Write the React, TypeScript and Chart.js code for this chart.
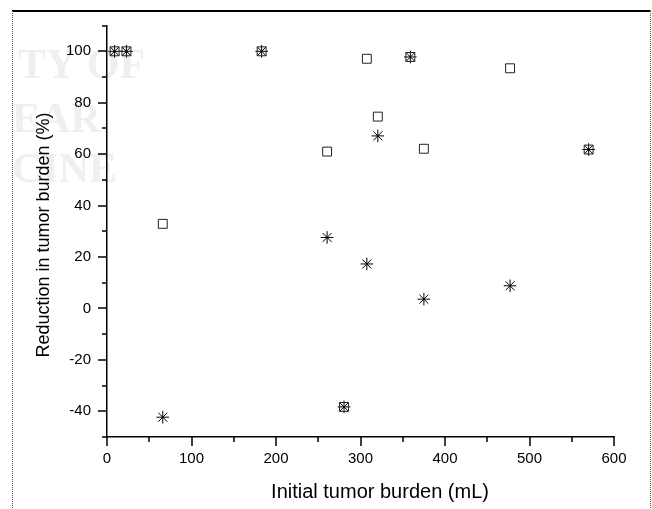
import React, { useEffect, useRef } from 'react';
import { Chart, registerables } from 'chart.js';

Chart.register(...registerables);

// Data
const patientVolume = [9, 23, 66, 183, 260.5, 280.5, 307.5, 320.5, 359, 375, 477, 570];
const reductionSquare = [100, 100, 32.9, 100, 61, -38.3, 97.1, 74.6, 97.8, 62.1, 93.4, 61.8];
const reductionAsterisk = [100, 100, -42.3, 100, 27.6, -38.3, 17.3, 67.1, 97.8, 3.6, 8.8, 61.8];

const xTickLabels = [0, 100, 200, 300, 400, 500, 600];
const xMinorTicks = [50, 150, 250, 350, 450, 550];
const yTickLabels = [-40, -20, 0, 20, 40, 60, 80, 100];
const yMinorTicks = [-50, -30, -10, 10, 30, 50, 70, 90, 110];

const xTitle = 'Initial tumor burden (mL)';
const yTitle = 'Reduction in tumor burden (%)';
const watermarkLines = ['TY OF', 'EAR', 'CINE'];

const FONT = "'Liberation Sans', Arial, Helvetica, sans-serif";

const decorPlugin = {
  id: 'decor',
  beforeDraw(chart: any) {
    const ctx = chart.ctx;
    ctx.save();
    // faint watermark
    ctx.fillStyle = '#efefef';
    ctx.font = "bold 42px 'Liberation Serif', 'DejaVu Serif', serif";
    ctx.textBaseline = 'alphabetic';
    ctx.textAlign = 'left';
    ctx.fillText(watermarkLines[0], 18, 78);
    ctx.fillText(watermarkLines[1], 12, 132);
    ctx.fillText(watermarkLines[2], 12, 182);
    // outer frame
    ctx.strokeStyle = '#000';
    ctx.lineWidth = 2;
    ctx.beginPath();
    ctx.moveTo(12, 11);
    ctx.lineTo(650.5, 11);
    ctx.stroke();
    ctx.lineWidth = 1;
    ctx.strokeStyle = '#555';
    ctx.setLineDash([1, 1]);
    ctx.beginPath();
    ctx.moveTo(12.5, 11);
    ctx.lineTo(12.5, 509);
    ctx.moveTo(650.5, 11);
    ctx.lineTo(650.5, 509);
    ctx.stroke();
    ctx.restore();
  },
  afterDraw(chart: any) {
    const ctx = chart.ctx;
    const xs = chart.scales.x;
    const ys = chart.scales.y;
    const left = chart.chartArea.left;
    const bottom = chart.chartArea.bottom;
    ctx.save();
    ctx.strokeStyle = '#000';
    ctx.lineWidth = 1.5;
    ctx.beginPath();
    xTickLabels.forEach((v) => {
      const px = Math.round(xs.getPixelForValue(v));
      ctx.moveTo(px, bottom);
      ctx.lineTo(px, bottom + 9);
    });
    xMinorTicks.forEach((v) => {
      const px = Math.round(xs.getPixelForValue(v));
      ctx.moveTo(px, bottom);
      ctx.lineTo(px, bottom + 5);
    });
    yTickLabels.forEach((v) => {
      const py = Math.round(ys.getPixelForValue(v));
      ctx.moveTo(left, py);
      ctx.lineTo(left - 9, py);
    });
    yMinorTicks.forEach((v) => {
      const py = Math.round(ys.getPixelForValue(v));
      ctx.moveTo(left, py);
      ctx.lineTo(left - 5, py);
    });
    ctx.stroke();

    // axis titles
    ctx.fillStyle = '#000';
    ctx.textBaseline = 'alphabetic';
    ctx.textAlign = 'center';
    ctx.font = `20px ${FONT}`;
    ctx.fillText(xTitle, 380, 498);
    ctx.translate(48.5, 235);
    ctx.rotate(-Math.PI / 2);
    ctx.font = `18px ${FONT}`;
    ctx.fillText(yTitle, 0, 0);
    ctx.restore();
  },
};

export default function App() {
  const canvasRef = useRef<HTMLCanvasElement | null>(null);

  useEffect(() => {
    const canvas = canvasRef.current;
    if (!canvas) return;
    const chart = new Chart(canvas, {
      type: 'scatter',
      data: {
        datasets: [
          {
            label: 'Square',
            data: patientVolume.map((x, i) => ({ x, y: reductionSquare[i] })),
            pointStyle: 'rect',
            pointRadius: 6.3,
            pointHoverRadius: 6.3,
            borderColor: '#222',
            backgroundColor: 'rgba(0,0,0,0)',
            borderWidth: 1,
            showLine: false,
          },
          {
            label: 'Asterisk',
            data: patientVolume.map((x, i) => ({ x, y: reductionAsterisk[i] })),
            pointStyle: 'star',
            pointRadius: 6.3,
            pointHoverRadius: 6.3,
            borderColor: '#000',
            backgroundColor: 'rgba(0,0,0,0)',
            borderWidth: 1,
            showLine: false,
          },
        ],
      },
      options: {
        responsive: false,
        animation: false,
        devicePixelRatio: 1,
        events: [],
        layout: { padding: { left: 0, right: 38, top: 25.6, bottom: 0 } },
        plugins: {
          legend: { display: false },
          tooltip: { enabled: false },
          title: { display: false },
        },
        scales: {
          x: {
            type: 'linear',
            min: 0,
            max: 600,
            afterBuildTicks: (s: any) => {
              s.ticks = xTickLabels.map((v) => ({ value: v }));
            },
            afterFit: (s: any) => {
              s.height = 72;
            },
            grid: { display: true, drawOnChartArea: false, drawTicks: false },
            border: { display: true, color: '#000', width: 1.5 },
            ticks: {
              color: '#000',
              font: { family: FONT, size: 15 },
              padding: 13,
              maxRotation: 0,
              autoSkip: false,
            },
          },
          y: {
            type: 'linear',
            min: -50,
            max: 110,
            afterBuildTicks: (s: any) => {
              s.ticks = yTickLabels.map((v) => ({ value: v }));
            },
            afterFit: (s: any) => {
              s.width = 107;
            },
            grid: { display: true, drawOnChartArea: false, drawTicks: false },
            border: { display: true, color: '#000', width: 1.5 },
            ticks: {
              color: '#000',
              font: { family: FONT, size: 15 },
              padding: 16,
              autoSkip: false,
            },
          },
        },
      },
      plugins: [decorPlugin],
    });
    return () => chart.destroy();
  }, []);

  return (
    <div style={{ position: 'absolute', left: 0, top: 0, width: 652, height: 509, background: '#fff' }}>
      <canvas ref={canvasRef} width={652} height={509} style={{ display: 'block' }} />
    </div>
  );
}
